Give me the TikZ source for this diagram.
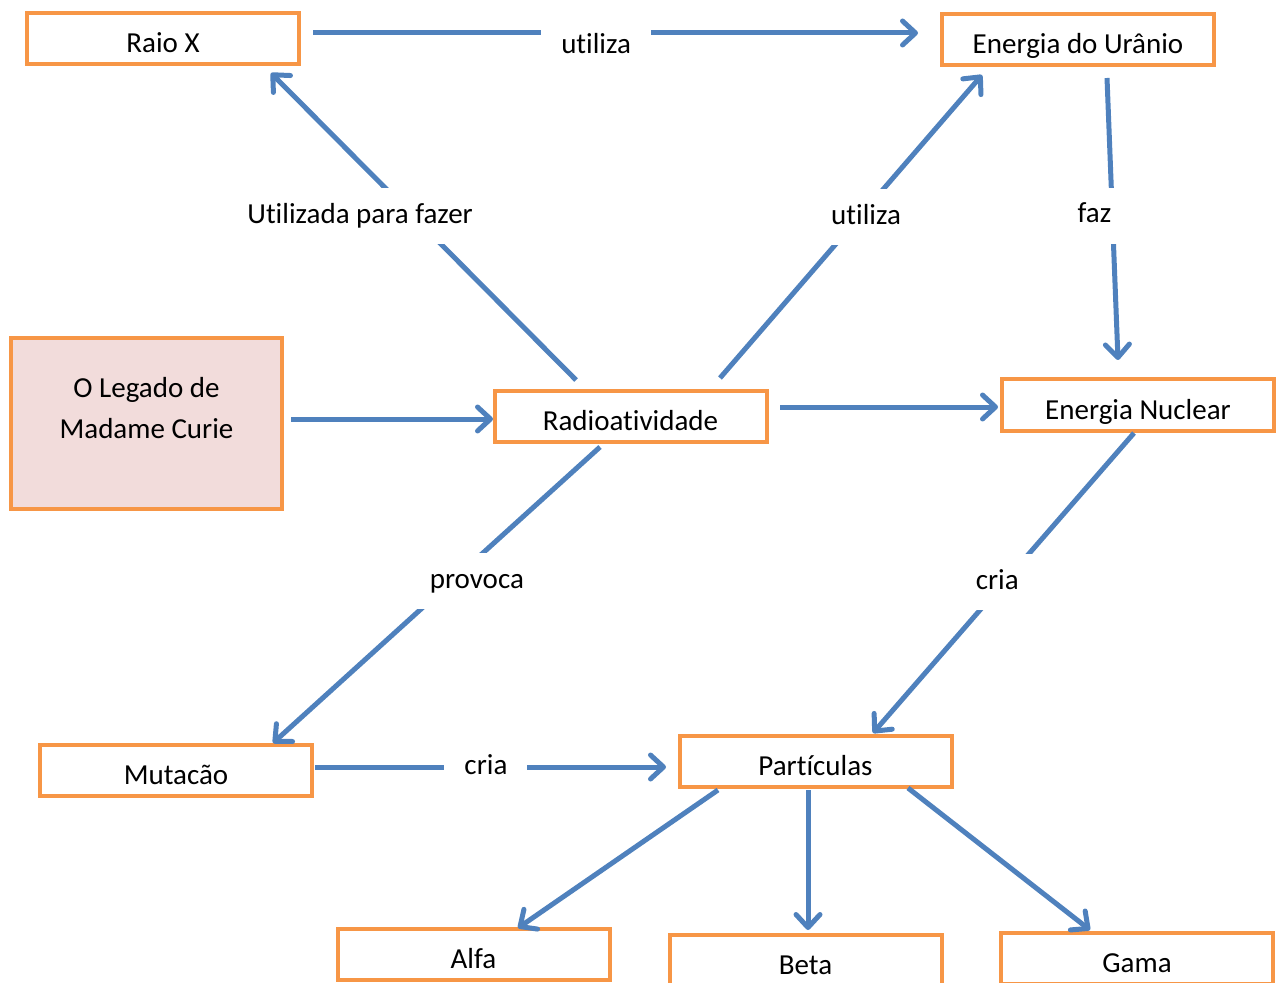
\documentclass[tikz,border=0pt]{standalone}
\usepackage{fontspec}
\setmainfont{Carlito}[Ligatures=NoCommon]
\usetikzlibrary{arrows.meta,calc}
\definecolor{boxorange}{HTML}{F79646}
\definecolor{arrowblue}{HTML}{4F81BD}
\definecolor{curiepink}{HTML}{F2DCDB}
\tikzset{
  box/.style={draw=boxorange, line width=2pt, fill=white, minimum width=136pt, minimum height=25.5pt,
    inner sep=0pt, outer sep=0pt, text height=14pt, text depth=0pt, font=\fontsize{14.5}{20.5}\selectfont},
  arr/.style={draw=arrowblue, line width=2.5pt, -{Straight Barb[length=6.5pt,width=12pt,round]}},
  lbl/.style={fill=white, inner xsep=10pt, inner ysep=0pt, minimum height=28pt,
    text height=10pt, text depth=3pt, font=\fontsize{14.5}{20.5}\selectfont}
}
\begin{document}
\begin{tikzpicture}[x=0.5pt, y=-0.5pt]
\useasboundingbox (0,0) rectangle (1277,983);
\clip (0,0) rectangle (1277,983);

% concept boxes
\node[box] (raiox) at (163,38.5) {Raio X};
\node[box] (urania) at (1078,40) {Energia do Urânio};
\node[box, fill=curiepink, minimum width=135.5pt, minimum height=85.5pt] (curie) at (146.5,423.5) {};
\node[align=center, font=\fontsize{14.5}{20.5}\selectfont] (curietxt) at (146.5,408) {O Legado de\\Madame Curie};
\node[box] (radio) at (630.5,416.5) {Radioatividade};
\node[box] (nuclear) at (1138,405) {Energia Nuclear};
\node[box] (mutacao) at (176,770.5) {Mutacão};
\node[box] (particulas) at (815.5,761) {Partículas};
\node[box] (alfa) at (473.5,954.5) {Alfa};
\node[box] (beta) at (805.5,960.5) {Beta};
\node[box] (gama) at (1137,958.5) {Gama};

% links
\draw[arr] ($(raiox.east)+(14,-5.5)$) -- node[lbl, pos=.468, yshift=-7pt] (lutiliza) {utiliza} ($(urania.west)+(-24,-7)$);
\draw[arr] ($(radio.north)+(-54.5,-11)$) -- node[lbl, pos=.534, xshift=-26.5pt] (lfazer) {Utilizada para fazer} ($(raiox.south)+(108,9)$);
\draw[arr] ($(radio.north)+(89.5,-13)$) -- node[lbl, pos=.531, xshift=3.5pt] (lutilizb) {utiliza} ($(urania.south)+(-96,9.5)$);
\draw[arr] ($(urania.south)+(29,12.5)$) -- node[lbl, pos=.489, xshift=-9pt] (lfaz) {faz} ($(nuclear.north)+(-20,-19.5)$);
\draw[arr] ($(curie.east)+(9,-4.5)$) -- ($(radio.west)+(-1.5,2.5)$);
\draw[arr] ($(radio.east)+(13.5,-9.5)$) -- ($(nuclear.west)+(-4,2)$);
\draw[arr] ($(radio.south)+(-30.5,5)$) -- node[lbl, pos=.453, xshift=12.5pt] (lprovoca) {provoca} ($(mutacao.north)+(97,-2)$);
\draw[arr] ($(nuclear.south)+(-4,2.5)$) -- node[lbl, pos=.497, xshift=-3.5pt] (lcriaa) {cria} ($(particulas.north)+(57.5,-2.5)$);
\draw[arr] ($(mutacao.east)+(3,-3.5)$) -- node[lbl, pos=.487] (lcriab) {cria} ($(particulas.west)+(-13.5,6)$);
\draw[arr] ($(particulas.south)+(-97.5,3.5)$) -- ($(alfa.north)+(44.5,-1)$);
\draw[arr] ($(particulas.south)+(-7.5,3.5)$) -- ($(beta.north)+(2.5,-5)$);
\draw[arr] ($(particulas.south)+(92.5,1.5)$) -- ($(gama.north)+(-47,-3)$);
\end{tikzpicture}
\end{document}
